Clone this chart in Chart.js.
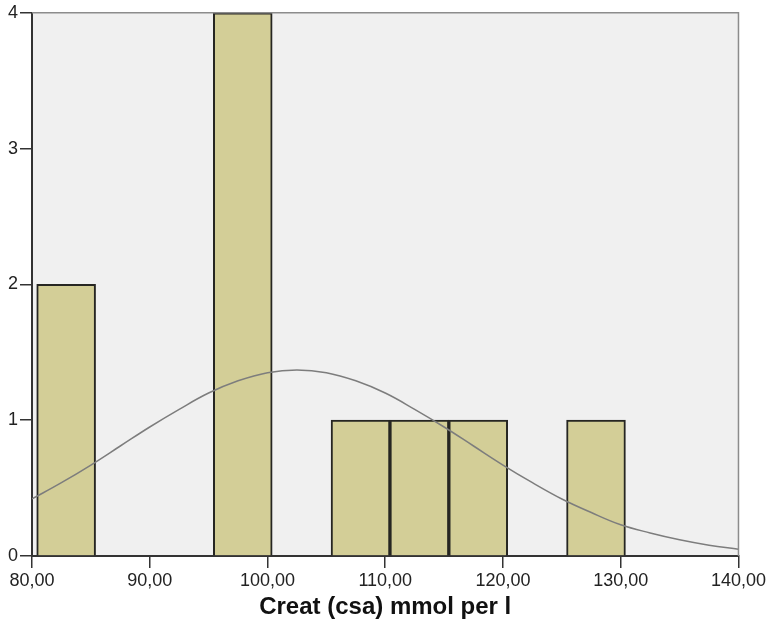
<!DOCTYPE html>
<html>
<head>
<meta charset="utf-8">
<script src="https://cdn.jsdelivr.net/npm/chart.js@4/dist/chart.umd.min.js"></script>
<style>
  html, body { margin: 0; padding: 0; background: #ffffff; }
  #wrap { width: 768px; height: 624px; }
</style>
</head>
<body>
<div id="wrap"><canvas id="histChart" width="768" height="624"></canvas></div>
<script>
// histogram bins (centre of each 5-wide bin) and counts
const binCenters = [82.9, 97.9, 107.9, 112.9, 117.9, 127.9];
const binCounts = [2, 4, 1, 1, 1, 1];

// normal curve
const curveX = [80, 82.5, 85, 87.5, 90, 92.5, 95, 97.5, 100, 102.5, 105, 107.5, 110,
                112.5, 115, 117.5, 120, 122.5, 125, 127.5, 130, 132.5, 135, 137.5, 140];
const curveY = [0.42, 0.54, 0.67, 0.81, 0.95, 1.08, 1.20, 1.29, 1.35, 1.37, 1.35, 1.29, 1.20,
                1.08, 0.95, 0.81, 0.67, 0.54, 0.42, 0.32, 0.23, 0.17, 0.12, 0.08, 0.05];

// axis ticks
const xTicks = [80, 90, 100, 110, 120, 130, 140];
const yTicks = [0, 1, 2, 3, 4];

const fmtComma = v => Number(v).toFixed(2).replace('.', ',');

// plot background + grey frame on top/right
const frame = {
    id: 'frame',
    beforeDraw(chart) {
        const a = chart.chartArea, c = chart.ctx;
        c.save();
        c.fillStyle = '#f0f0f0';
        c.fillRect(a.left, a.top, a.right - a.left, a.bottom - a.top);
        c.restore();
    },
    afterDraw(chart) {
        const a = chart.chartArea, c = chart.ctx;
        c.save();
        c.strokeStyle = '#8c8c8c';
        c.lineWidth = 1.5;
        c.beginPath();
        c.moveTo(a.left, a.top);
        c.lineTo(a.right, a.top);
        c.lineTo(a.right, a.bottom);
        c.stroke();
        c.restore();
    }
};

const ctx = document.getElementById('histChart').getContext('2d');
new Chart(ctx, {
    data: {
        datasets: [
            {
                type: 'line',
                data: curveX.map((x, i) => ({ x: x, y: curveY[i] })),
                borderColor: '#7d7d7d',
                borderWidth: 1.5,
                pointRadius: 0,
                tension: 0.4,
                fill: false,
                order: 0
            },
            {
                type: 'bar',
                data: binCenters.map((x, i) => ({ x: x, y: binCounts[i] })),
                backgroundColor: '#d3ce97',
                borderColor: '#262622',
                borderWidth: 2,
                categoryPercentage: 1,
                barPercentage: 1,
                order: 1
            }
        ]
    },
    options: {
        responsive: false,
        animation: false,
        layout: { padding: { top: 12, right: 29, left: 0, bottom: 0 } },
        plugins: {
            legend: { display: false },
            tooltip: { enabled: false }
        },
        scales: {
            x: {
                type: 'linear',
                min: 80,
                max: 140,
                offset: false,
                afterFit: s => { s.height = 68; },
                afterBuildTicks: s => { s.ticks = xTicks.map(v => ({ value: v })); },
                grid: { offset: false, drawOnChartArea: false, drawTicks: true, tickLength: 12, color: '#333333', lineWidth: 1.5 },
                border: { display: true, color: '#333333', width: 2 },
                ticks: {
                    color: '#222222',
                    font: { family: 'Liberation Sans, Arial, sans-serif', size: 18 },
                    padding: 2,
                    maxRotation: 0,
                    callback: v => fmtComma(v)
                },
                title: {
                    display: true,
                    text: 'Creat (csa) mmol per l',
                    color: '#111111',
                    font: { family: 'Liberation Sans, Arial, sans-serif', size: 24, weight: 'bold' },
                    padding: { top: 0, bottom: 2 }
                }
            },
            y: {
                min: 0,
                max: 4,
                afterFit: s => { s.width = 32; },
                afterBuildTicks: s => { s.ticks = yTicks.map(v => ({ value: v })); },
                grid: { drawOnChartArea: false, drawTicks: true, tickLength: 12, color: '#333333', lineWidth: 1.5 },
                border: { display: true, color: '#333333', width: 2 },
                ticks: {
                    color: '#222222',
                    font: { family: 'Liberation Sans, Arial, sans-serif', size: 18 },
                    padding: 2
                }
            }
        }
    },
    plugins: [frame]
});
</script>
</body>
</html>
